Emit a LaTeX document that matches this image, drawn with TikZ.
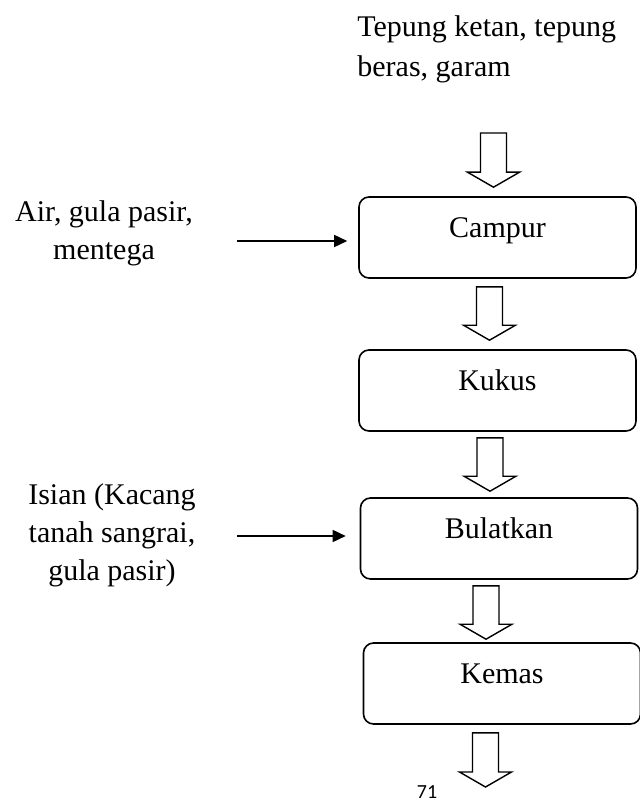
\documentclass[tikz,border=0pt]{standalone}
\usepackage{fontspec}
\setmainfont{Liberation Serif}
\newfontfamily\pagefont{Carlito}
\usetikzlibrary{arrows.meta,calc}

\tikzset{
    txt/.style={font=\fontsize{15}{19}\selectfont, inner sep=0pt},
    stepbox/.style={draw, line width=0.8pt, rounded corners=5pt,
        minimum width=138.5pt, minimum height=40.5pt,
        text height=0.7em, text depth=0.7em, font=\fontsize{15}{19}\selectfont},
    blockarr/.style={draw, line width=0.7pt, fill=white},
    inarr/.style={line width=0.8pt, -{Triangle[length=6.5pt,width=6pt]}}
}
% block arrow: #1 top of shaft, #2 tip (x taken from the tip)
\newcommand{\blockarrow}[2]{%
    \path[blockarr] let \p1=#1, \p2=#2 in
        (\x2-6.5pt,\y1) -- (\x2+6.5pt,\y1) -- (\x2+6.5pt,\y2+7.5pt)
        -- (\x2+13pt,\y2+7.5pt) -- (\x2,\y2) -- (\x2-13pt,\y2+7.5pt)
        -- (\x2-6.5pt,\y2+7.5pt) -- cycle;}

\begin{document}
\begin{tikzpicture}[x=0.5pt, y=-0.5pt]
    \useasboundingbox (0,0) rectangle (639,802);

    % inputs
    \node[txt, align=left, anchor=west, font=\fontsize{15}{20}\selectfont] (tepung) at (357,49)
        {Tepung ketan, tepung\\beras, garam};
    \node[txt, align=center] (air) at (104,233) {Air, gula pasir,\\mentega};
    \node[txt, align=center] (isian) at (112,535)
        {Isian (Kacang\\tanah sangrai,\\gula pasir)};

    % process steps
    \node[stepbox] (campur) at (497.5,237.5) {Campur};
    \node[stepbox] (kukus) at (497.5,390.5) {Kukus};
    \node[stepbox] (bulatkan) at (499,538.5) {Bulatkan};
    \node[stepbox] (kemas) at (502,683.5) {Kemas};

    \coordinate (masuk) at (493.5,133);
    \coordinate (keluar) at (485.5,787);
    \coordinate (airin) at (237,241);
    \coordinate (isianin) at (237,536);

    % flow
    \blockarrow{(masuk)}{($(campur.north)+(-4,-9)$)}
    \blockarrow{($(campur.south)+(-8,8)$)}{($(kukus.north)+(-8,-9)$)}
    \blockarrow{($(kukus.south)+(-8,6)$)}{($(bulatkan.north)+(-9,-6)$)}
    \blockarrow{($(bulatkan.south)+(-13,6)$)}{($(kemas.north)+(-16,-3)$)}
    \blockarrow{($(kemas.south)+(-16,8)$)}{(keluar)}

    \draw[inarr] (airin) -- ($(campur.west)+(-11,3.5)$);
    \draw[inarr] (isianin) -- ($(bulatkan.west)+(-14,-2.5)$);

    \node[font=\pagefont\fontsize{10}{12}\selectfont, inner sep=0pt] (hal) at (427,792) {71};
\end{tikzpicture}
\end{document}
